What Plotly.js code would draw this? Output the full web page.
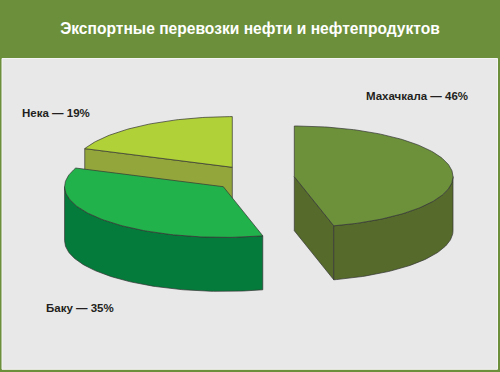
<!DOCTYPE html>
<html><head><meta charset="utf-8">
<script src="https://cdn.plot.ly/plotly-3.0.1.min.js"></script>
<style>html,body{margin:0;padding:0;background:#6b8f3a;}#chart{width:500px;height:372px;}</style>
</head><body><div id="chart"></div>
<script>
// ---- data ----
const cities = ['Махачкала', 'Баку', 'Нека'];
const shares = [46, 35, 19];
const chartTitle = 'Экспортные перевозки нефти и нефтепродуктов';

// ---- styling / layout ----
const topColors  = ['#6c913a', '#22b24c', '#b0d137'];
const sideColors = ['#566b2b', '#057b3b', '#93a63c'];
const centers    = [[294.3, 176.7], [223.3, 186.7], [232.3, 167.3]]; // exploded slice centres
const labelPos   = [[417, 96], [80, 308], [56, 113]];
const drawOrder  = [2, 1, 0];
const RX = 158.7, RY = 50.7, DEPTH = 54;

function pt(c, deg, dy) {
  const r = deg * Math.PI / 180;
  return [c[0] + RX * Math.sin(r), c[1] - RY * Math.cos(r) + (dy || 0)];
}
function arc(c, a0, a1, dy) {
  const pts = [];
  const n = Math.max(2, Math.ceil(Math.abs(a1 - a0)));
  for (let i = 0; i <= n; i++) pts.push(pt(c, a0 + (a1 - a0) * i / n, dy));
  return pts;
}

const total = shares.reduce((a, b) => a + b, 0);
const starts = [], ends = [];
let acc = 0;
shares.forEach((v, i) => { starts[i] = acc / total * 360; acc += v; ends[i] = acc / total * 360; });

const traces = [];
function poly(pts, color) {
  const xs = pts.map(p => p[0]), ys = pts.map(p => p[1]);
  xs.push(xs[0]); ys.push(ys[0]);
  traces.push({type: 'scatter', mode: 'lines', x: xs, y: ys, fill: 'toself',
    fillcolor: color, line: {color: '#333333', width: 0.7}, hoverinfo: 'skip', showlegend: false});
}

drawOrder.forEach(i => {
  const c = centers[i], a0 = starts[i], a1 = ends[i];
  const cb = [c[0], c[1] + DEPTH];
  if (a0 > 180 && a0 < 360) {
    poly([c, pt(c, a0), pt(c, a0, DEPTH), cb], sideColors[i]);
  }
  if (a1 > 0 && a1 < 180) {
    poly([c, pt(c, a1), pt(c, a1, DEPTH), cb], sideColors[i]);
  }
  const w0 = Math.max(a0, 90), w1 = Math.min(a1, 270);
  if (w1 > w0) {
    poly(arc(c, w0, w1, 0).concat(arc(c, w0, w1, DEPTH).reverse()), sideColors[i]);
  }
  poly([c].concat(arc(c, a0, a1, 0)), topColors[i]);
});

const annotations = cities.map((name, i) => ({
  x: labelPos[i][0], y: labelPos[i][1], xref: 'x', yref: 'y',
  text: '<b>' + name + ' — ' + shares[i] + '%</b>', showarrow: false,
  xanchor: 'center', yanchor: 'middle',
  font: {family: 'Liberation Sans, Arial, sans-serif', size: 11.5, color: '#231f20'}
}));

const layout = {
  width: 500, height: 372,
  margin: {l: 0, r: 0, t: 0, b: 0},
  paper_bgcolor: '#6b8f3a', plot_bgcolor: 'rgba(0,0,0,0)',
  xaxis: {range: [0, 500], visible: false, fixedrange: true},
  yaxis: {range: [372, 0], visible: false, fixedrange: true},
  showlegend: false,
  title: {text: '<b>' + chartTitle + '</b>', x: 0.5, xanchor: 'center', xref: 'paper',
    y: 1 - 29 / 372, yanchor: 'middle', yref: 'paper',
    font: {family: 'Liberation Sans, Arial, sans-serif', size: 15.6, color: '#ffffff'}},
  shapes: [{type: 'rect', xref: 'x', yref: 'y', x0: 2, x1: 497.5, y0: 58.5, y1: 369.3,
    fillcolor: '#e8e8e8', line: {color: '#f4f4f4', width: 1}, layer: 'below'}],
  annotations: annotations
};

Plotly.newPlot('chart', traces, layout, {staticPlot: true, displayModeBar: false});
</script>
</body></html>
